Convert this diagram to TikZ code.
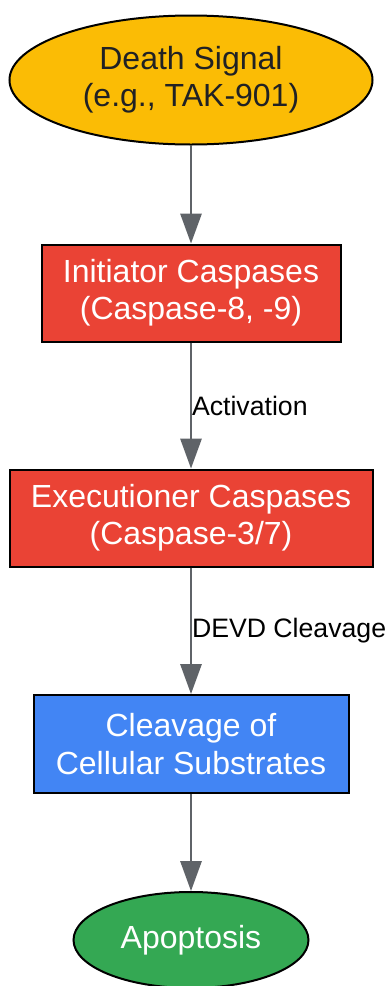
\documentclass[tikz,border=0pt]{standalone}
\usepackage{fontspec}
\setmainfont{Liberation Sans}
\usetikzlibrary{shapes.geometric, arrows.meta}
\definecolor{signalyellow}{HTML}{FBBC05}
\definecolor{caspred}{HTML}{EA4335}
\definecolor{substblue}{HTML}{4285F4}
\definecolor{apopgreen}{HTML}{34A853}
\definecolor{edgegray}{HTML}{5F6368}
\definecolor{darktext}{HTML}{202124}
\begin{document}
\begin{tikzpicture}[x=0.75pt, y=-0.75pt,
  every node/.style={draw=black, line width=1.5pt, align=center, inner sep=0pt,
    font=\fontsize{24}{28}\selectfont},
  oval/.style={ellipse},
  stepbox/.style={rectangle, minimum height=72.75pt},
  flow/.style={-{Triangle[length=22.5pt, width=16pt]}, draw=edgegray, line width=1.5pt},
  edgelabel/.style={draw=none, anchor=west, inner sep=0pt, font=\fontsize{20}{24}\selectfont}]
\useasboundingbox (0,0) rectangle (387,986);
\node[oval, fill=signalyellow, text=darktext, minimum width=272.25pt, minimum height=96.75pt] (signal) at (191,80) {Death Signal\\(e.g., TAK-901)};
\node[stepbox, fill=caspred, text=white, minimum width=224.25pt] (initiator) at (191,293) {Initiator Caspases\\(Caspase-8, -9)};
\node[stepbox, fill=caspred, text=white, minimum width=272.25pt] (executioner) at (191,518) {Executioner Caspases\\(Caspase-3/7)};
\node[stepbox, fill=substblue, text=white, minimum width=236.25pt, minimum height=73.5pt] (substrates) at (191,744) {Cleavage of\\Cellular Substrates};
\node[oval, fill=apopgreen, text=white, minimum width=176.25pt, minimum height=72pt] (apoptosis) at (191,940) {Apoptosis};
\draw[flow] (signal) -- (initiator);
\draw[flow] (initiator) -- node[edgelabel, pos=0.5] {Activation} (executioner);
\draw[flow] (executioner) -- node[edgelabel, pos=0.5] {DEVD Cleavage} (substrates);
\draw[flow] (substrates) -- (apoptosis);
\end{tikzpicture}
\end{document}
